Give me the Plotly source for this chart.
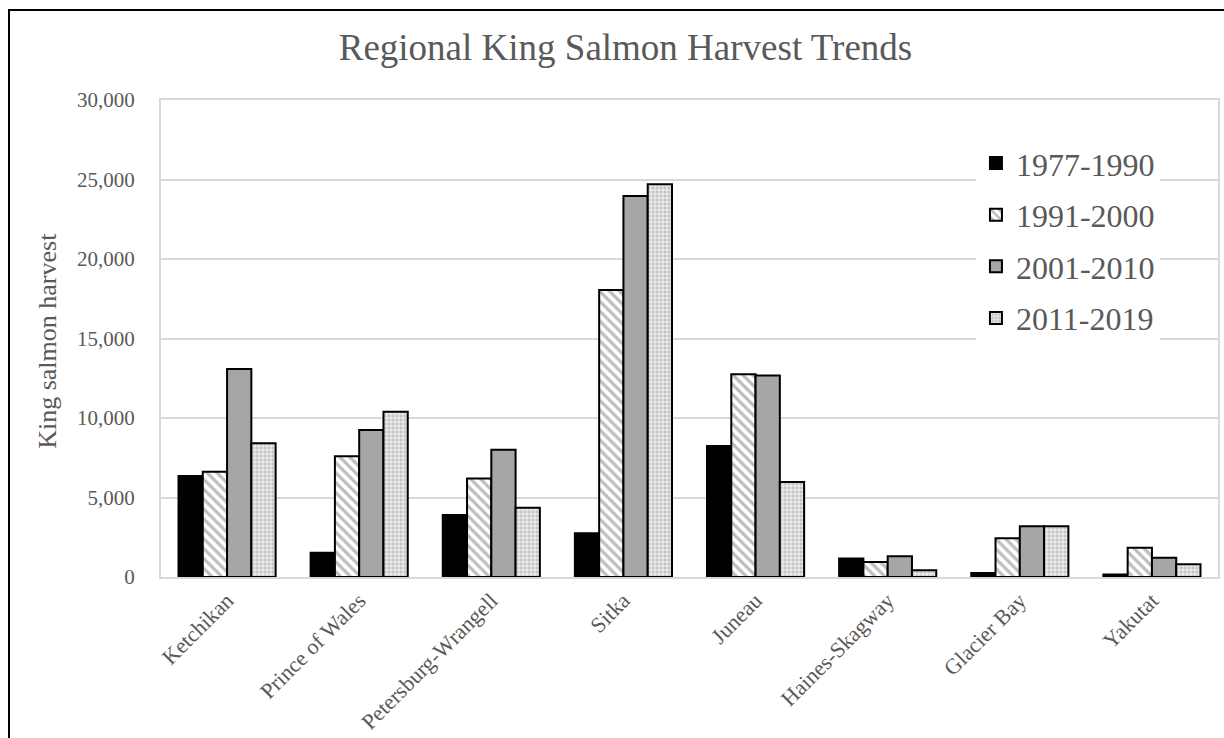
import plotly.graph_objects as go

# Regional harvest by period
regions = ["Ketchikan", "Prince of Wales", "Petersburg-Wrangell", "Sitka",
           "Juneau", "Haines-Skagway", "Glacier Bay", "Yakutat"]
period_names = ["1977-1990", "1991-2000", "2001-2010", "2011-2019"]

harvest_1977_1990 = [6350, 1530, 3900, 2750, 8240, 1160, 250, 150]
harvest_1991_2000 = [6620, 7600, 6200, 18050, 12750, 940, 2430, 1840]
harvest_2001_2010 = [13080, 9250, 8000, 23960, 12680, 1300, 3190, 1210]
harvest_2011_2019 = [8410, 10400, 4350, 24700, 5970, 420, 3190, 800]

series = [harvest_1977_1990, harvest_1991_2000, harvest_2001_2010, harvest_2011_2019]

y_ticks = [0, 5000, 10000, 15000, 20000, 25000, 30000]

FONT = "Liberation Serif, Times New Roman, serif"
TEXT = "#595959"
GRID = "#d9d9d9"

markers = [
    dict(color="#000000", line=dict(color="#000000", width=2)),
    dict(color="#ffffff", line=dict(color="#000000", width=2),
         pattern=dict(shape="\\", fgcolor="#bdbdbd", bgcolor="#ffffff",
                      size=7, solidity=0.45, fillmode="replace")),
    dict(color="#a6a6a6", line=dict(color="#000000", width=2)),
    dict(color="#d0d0d0", line=dict(color="#000000", width=2),
         pattern=dict(shape="+", fgcolor="#ffffff", bgcolor="#c4c4c4",
                      size=4, solidity=0.35, fillmode="replace")),
]

fig = go.Figure()
for name, vals, mk in zip(period_names, series, markers):
    fig.add_trace(go.Bar(x=regions, y=vals, name=name, marker=mk,
                         legendgroup=name))

fig.update_layout(
    width=1224, height=738,
    margin=dict(l=161, r=6, t=100, b=161),
    paper_bgcolor="#ffffff", plot_bgcolor="#ffffff",
    font=dict(family=FONT, color=TEXT),
    barmode="group", bargap=0.265, bargroupgap=0,
    title=dict(text="Regional King Salmon Harvest Trends",
               font=dict(family=FONT, size=37, color=TEXT),
               x=0.511, xanchor="center", y=0.936, yanchor="middle"),
    legend=dict(x=0.771, y=0.925, xanchor="left", yanchor="top",
                bgcolor="#ffffff", borderwidth=0,
                font=dict(family=FONT, size=32, color=TEXT),
                traceorder="grouped", tracegroupgap=7,
                itemclick=False),
    showlegend=True,
)

fig.update_xaxes(
    tickangle=-45, tickfont=dict(family=FONT, size=22, color=TEXT),
    showline=True, linecolor=GRID, linewidth=2, mirror=True,
    showgrid=False, ticks="", automargin=False,
)
fig.update_yaxes(
    range=[0, 30000], tickvals=y_ticks, tickformat=",",
    tickfont=dict(family=FONT, size=21, color=TEXT),
    showgrid=True, gridcolor=GRID, gridwidth=2,
    showline=True, linecolor=GRID, linewidth=2, mirror=True,
    zeroline=False, ticks="", ticklabelstandoff=20, automargin=False,
)

# Vertical axis title
fig.add_annotation(text="King salmon harvest", xref="paper", yref="paper",
                   x=-0.107, y=0.495, textangle=-90, showarrow=False,
                   xanchor="center", yanchor="middle",
                   font=dict(family=FONT, size=26, color=TEXT))

# Outer frame around the chart
fig.add_shape(type="rect", xref="paper", yref="paper",
              x0=-0.1438, x1=1.03, y0=-0.40, y1=1.1887,
              line=dict(color="#000000", width=2), fillcolor="rgba(0,0,0,0)",
              layer="below")

fig.write_html("out.html")
